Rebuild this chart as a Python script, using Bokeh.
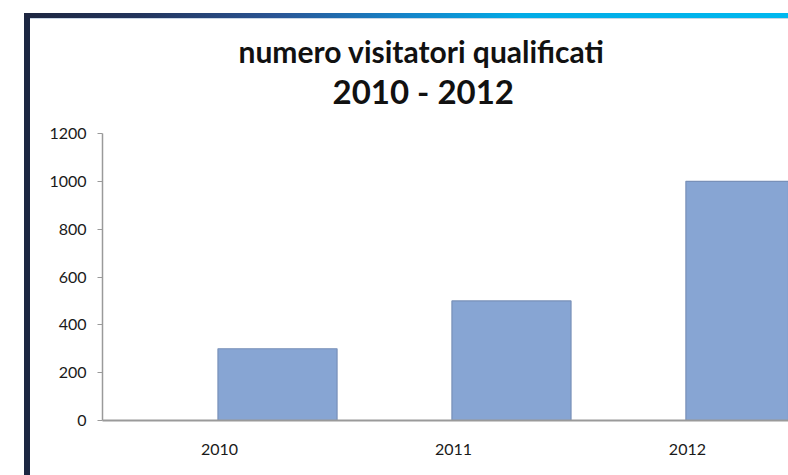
from bokeh.plotting import figure
from bokeh.models import Range1d, FixedTicker, Title, ColumnDataSource
from bokeh.transform import dodge
from bokeh.embed import file_html
from bokeh.resources import INLINE

# ---- data ----
years = ["2010", "2011", "2012"]
visitors = [300, 500, 1000]
y_ticks = [0, 200, 400, 600, 800, 1000, 1200]
title_lines = ["numero visitatori qualificati", "2010 - 2012"]

W, H = 788, 475
xs = list(range(len(years)))
src = ColumnDataSource(dict(x=xs, v=visitors, year=years))

gradient = ("linear-gradient(to right, #1d2640 0%, #22345c 15%, #2a5595 33%, "
            "#1584c9 50%, #02abe6 65%, #00b8ef 100%)")
bg = (gradient + " 24px 13px / 764px 5px no-repeat, "
      "linear-gradient(#c9d6e6, #c9d6e6) 30px 18px / 758px 1px no-repeat, "
      "linear-gradient(#1c2742, #1c2742) 24px 13px / 6px 462px no-repeat, "
      "white")

p = figure(width=W, height=H, output_backend="svg", toolbar_location=None,
           x_range=Range1d(-0.5, 2.432), y_range=Range1d(0, 1200),
           min_border_left=102, min_border_right=0, min_border_top=133,
           min_border_bottom=55)
p.styles = {"background": bg}
p.outline_line_color = None
p.background_fill_color = "white"
p.border_fill_color = None
p.xgrid.visible = False
p.ygrid.visible = False

p.vbar(x=dodge("x", 0.248, range=p.x_range), top="v", width=0.509, bottom=0,
       source=src, fill_color="#87a5d3", line_color="#7890b8", line_width=1.2)

# x axis
xa = p.xaxis[0]
xa.ticker = FixedTicker(ticks=xs)
xa.major_label_overrides = {i: y for i, y in enumerate(years)}
xa.major_tick_line_color = None
xa.major_tick_out = 0
xa.major_tick_in = 0
xa.minor_tick_line_color = None
xa.axis_line_color = "#9a9a9a"
xa.axis_line_width = 2
xa.major_label_standoff = 23
xa.major_label_text_font = "Lato"
xa.major_label_text_font_size = "16px"
xa.major_label_text_color = "#1a1a1a"

# y axis
ya = p.yaxis[0]
ya.ticker = FixedTicker(ticks=y_ticks)
ya.major_tick_out = 5
ya.major_tick_in = 0
ya.major_tick_line_color = "#9a9a9a"
ya.minor_tick_line_color = None
ya.axis_line_color = "#9a9a9a"
ya.axis_line_width = 1.5
ya.major_label_standoff = 11
ya.major_label_text_font = "Lato"
ya.major_label_text_font_size = "16px"
ya.major_label_text_color = "#1a1a1a"

# title: two stacked titles (first added is closest to the frame)
p.title.visible = False
p.add_layout(Title(text=title_lines[1], align="left", offset=230, standoff=45,
                   text_font="Lato", text_font_style="bold",
                   text_font_size="33px", text_color="#111111"), "above")
p.add_layout(Title(text=title_lines[0], align="left", offset=136, standoff=-44,
                   text_font="Lato", text_font_style="bold",
                   text_font_size="30px", text_color="#111111"), "above")

open("out.html", "w").write(file_html(p, INLINE))
